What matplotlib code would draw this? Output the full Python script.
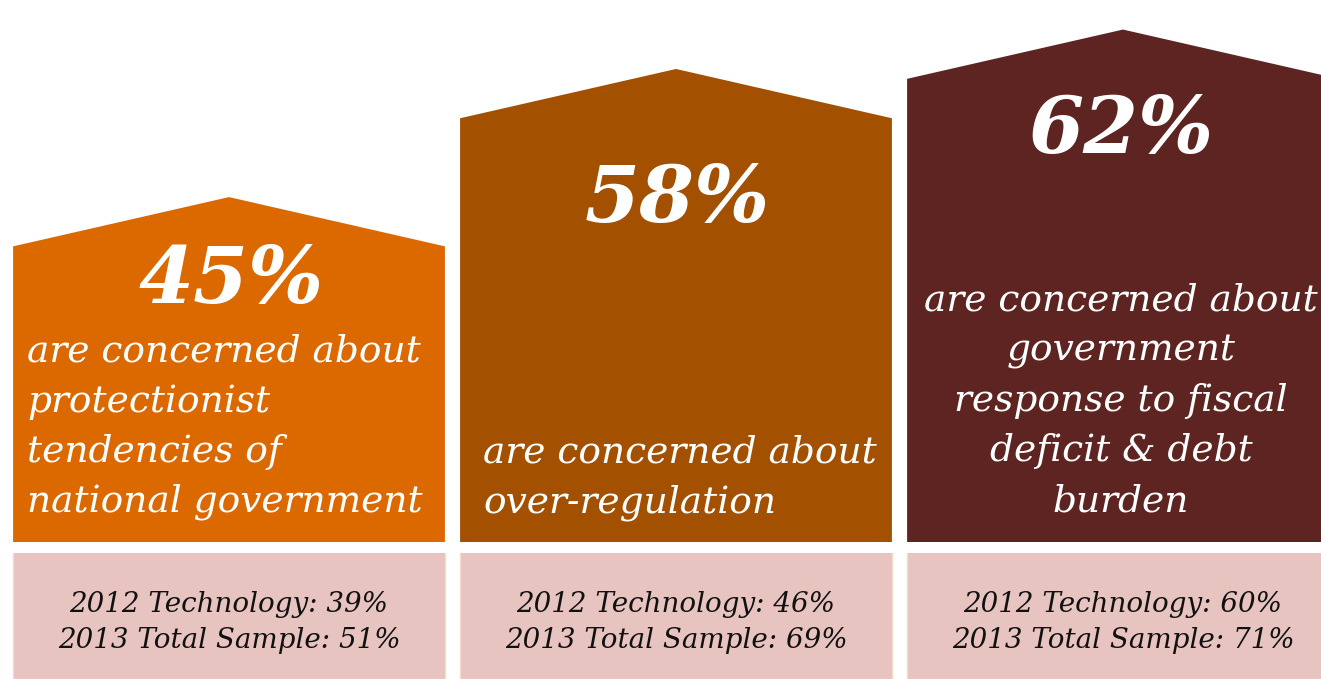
import matplotlib.pyplot as plt
from matplotlib.patches import Polygon

# Share of respondents concerned about each government-related threat
shares = [45, 58, 62]
share_labels = ["45%", "58%", "62%"]
descriptions = [
    "are concerned about\nprotectionist\ntendencies of\nnational government",
    "are concerned about\nover-regulation",
    "are concerned about\ngovernment\nresponse to fiscal\ndeficit & debt\nburden",
]
tech_2012 = [39, 46, 60]
total_2013 = [51, 69, 71]

house_colors = ["#DB6900", "#A35000", "#5E2421"]
box_color = "#E8C4C0"

W, H = 1321, 679
FLOOR = 15      # value axis starts here, so houses rise from the bottom of the panel
ROOF = 5        # roof rise in value units
BAR_W = 0.966


def fig_xy(x, y):
    """Pixel position (from the top-left) to figure fraction."""
    return x / W, 1 - y / H


fig = plt.figure(figsize=(W / 100, H / 100), dpi=100)
fig.patch.set_facecolor("white")

idx = list(range(len(shares)))
xlim = (-229 / 447, (W - 229) / 447)

# house panel: each house is a bar up to its share with a gable on top
ax = fig.add_axes([0, 1 - 542 / H, 1, 542 / H])
ax.set_xlim(*xlim)
ax.set_ylim(FLOOR, 70)
ax.axis("off")
for i, v in enumerate(shares):
    left, right = i - BAR_W / 2, i + BAR_W / 2
    house = Polygon([(left, FLOOR), (left, v), (i, v + ROOF), (right, v), (right, FLOOR)],
                    closed=True, facecolor=house_colors[i], edgecolor="none")
    ax.add_patch(house)

# comparison panel below the houses
bx = fig.add_axes([0, 0, 1, (H - 553) / H])
bx.set_xlim(*xlim)
bx.set_ylim(0, 1)
bx.axis("off")
bx.bar(idx, [1.05] * len(idx), width=BAR_W, color=box_color,
       edgecolor="#F6D9CC", linewidth=1)
for i in idx:
    bx.text(i, 0.45, f"2012 Technology: {tech_2012[i]}%\n2013 Total Sample: {total_2013[i]}%",
            ha="center", va="center", fontsize=20, style="italic",
            family="DejaVu Serif", color="#111111", linespacing=1.4)

# big numbers
number_pos = [(231, 281), (677, 200), (1121, 131)]
for (x, y), lab in zip(number_pos, share_labels):
    fig.text(*fig_xy(x, y), lab, ha="center", va="center", fontsize=57,
             weight="bold", style="italic", family="DejaVu Serif", color="white")

# descriptions
desc_pos = [(27, 427, "left"), (483, 478, "left"), (1121, 401, "center")]
for (x, y, ha), txt in zip(desc_pos, descriptions):
    fig.text(*fig_xy(x, y), txt, ha=ha, va="center", fontsize=27, style="italic",
             family="DejaVu Serif", color="white", linespacing=1.5)

fig.savefig("out.png", dpi=100)
